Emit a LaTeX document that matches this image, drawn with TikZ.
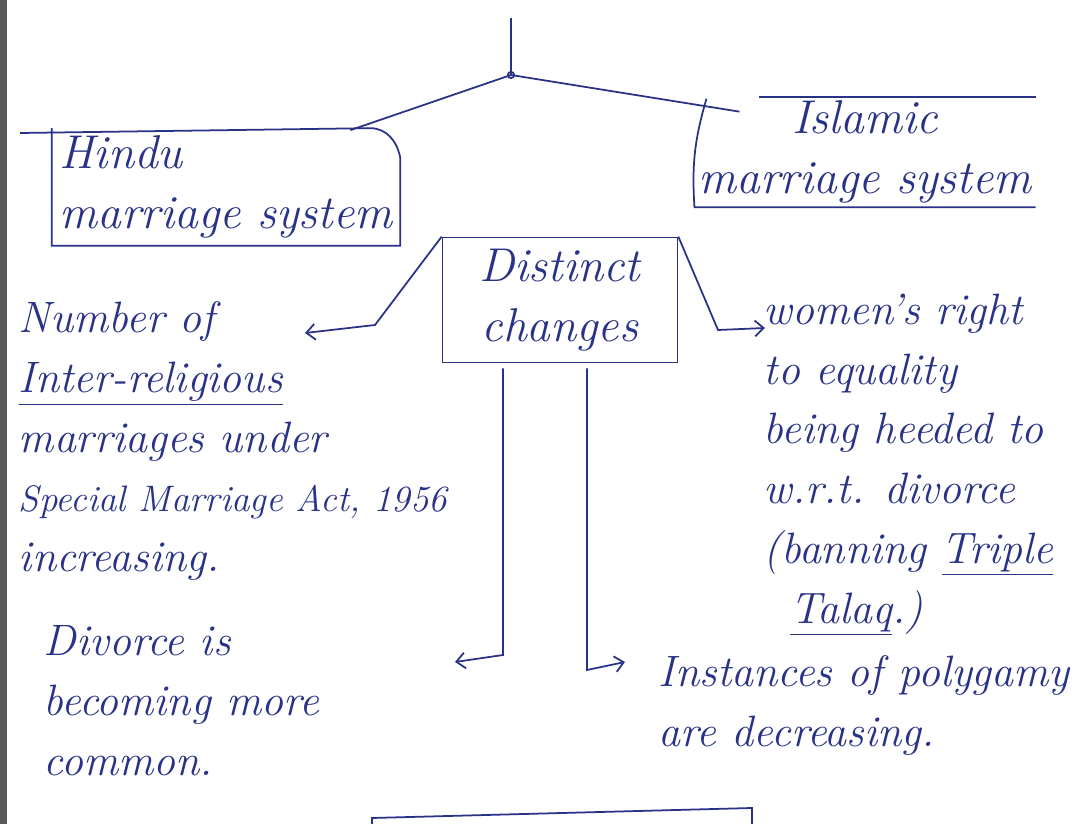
\documentclass[tikz,border=0pt]{standalone}
\usepackage{tikz}
\usetikzlibrary{calc,positioning,arrows.meta}
\definecolor{ink}{RGB}{40,50,135}
\newcommand{\handsize}[1]{\fontsize{#1}{34}\selectfont\itshape}
\tikzset{
  hand/.style={font=\handsize{25}, text=ink, align=left, inner sep=2pt},
  bighand/.style={font=\handsize{27}, text=ink, inner sep=2pt},
  pen/.style={draw=ink, line width=1pt},
  >={Straight Barb[length=5pt,width=9pt]},
}
\begin{document}
\begin{tikzpicture}[x=0.02cm,y=-0.02cm]
\clip (0,0) rectangle (1090,824);
\fill[white] (0,0) rectangle (1090,824);
\fill[black!65] (0,0) rectangle (7,824);

% stem at the top
\coordinate (top) at (511,18);
\coordinate (junc) at (511,75);
\draw[pen] (top) -- (junc);
\draw[pen] (junc) circle (1.8pt);

% the two systems
\node[bighand, align=left, minimum width=6.96cm, minimum height=2.34cm] (hindu) at (226,187) {Hindu\\marriage system};
\coordinate (rule) at (20,133);
\draw[pen] (rule) -- ($(hindu.north east)+(-30,0)$) to[out=0,in=100] ($(hindu.north east)+(0,30)$)
  -- (hindu.south east) -- (hindu.south west) -- (hindu.north west);
\draw[pen] (junc) -- ($(hindu.north east)+(-50,2)$);

\node[bighand, align=center, minimum width=6.2cm, minimum height=2.2cm] (islamic) at (865,152) {Islamic\\marriage system};
\draw[pen] ($(islamic.north west)+(65,0)$) -- (islamic.north east);
\draw[pen] ($(islamic.north west)+(12,2)$) to[bend right=10] (islamic.south west) -- (islamic.south east);
\draw[pen] (junc) -- ($(islamic.north west)+(45,15)$);

% centre box
\node[bighand, pen, align=center, minimum width=4.7cm, minimum height=2.5cm] (distinct) at (560,300) {Distinct\\changes};

% changes
\node[hand, anchor=north west] (religious) at (15,298) {Number of\\\underline{Inter-religious}\\marriages under\\{\handsize{21}Special Marriage Act, 1956}\\increasing.};
\node[hand, anchor=north west] (divorce) at (40,622) {Divorce is\\becoming more\\common.};
\node[hand, anchor=north west] (women) at (760,290) {women's right\\to equality\\being heeded to\\w.r.t. divorce\\(banning \underline{Triple}\\\hspace*{0.6em}\underline{Talaq}.)};
\node[hand, anchor=north west] (polygamy) at (655,652) {Instances of polygamy\\are decreasing.};

% arrows out of the centre box
\coordinate (bendL) at (375,325);
\coordinate (tipA) at (305,333);
\draw[pen,->] (distinct.north west) -- (bendL) -- (tipA);
\coordinate (bendR) at (718,330);
\coordinate (tipB) at (765,328);
\draw[pen,->] (distinct.north east) -- (bendR) -- (tipB);
\coordinate (dropL) at (503,655);
\coordinate (tipC) at (455,662);
\draw[pen,->] ($(distinct.south)+(-57,5)$) -- (dropL) -- (tipC);
\coordinate (dropR) at (587,670);
\coordinate (tipD) at (625,662);
\draw[pen,->] ($(distinct.south)+(27,5)$) -- (dropR) -- (tipD);

% next box, cut off at the bottom
\draw[pen] (372,830) -- (372,818) -- (752,808) -- (752,830);
\end{tikzpicture}
\end{document}
